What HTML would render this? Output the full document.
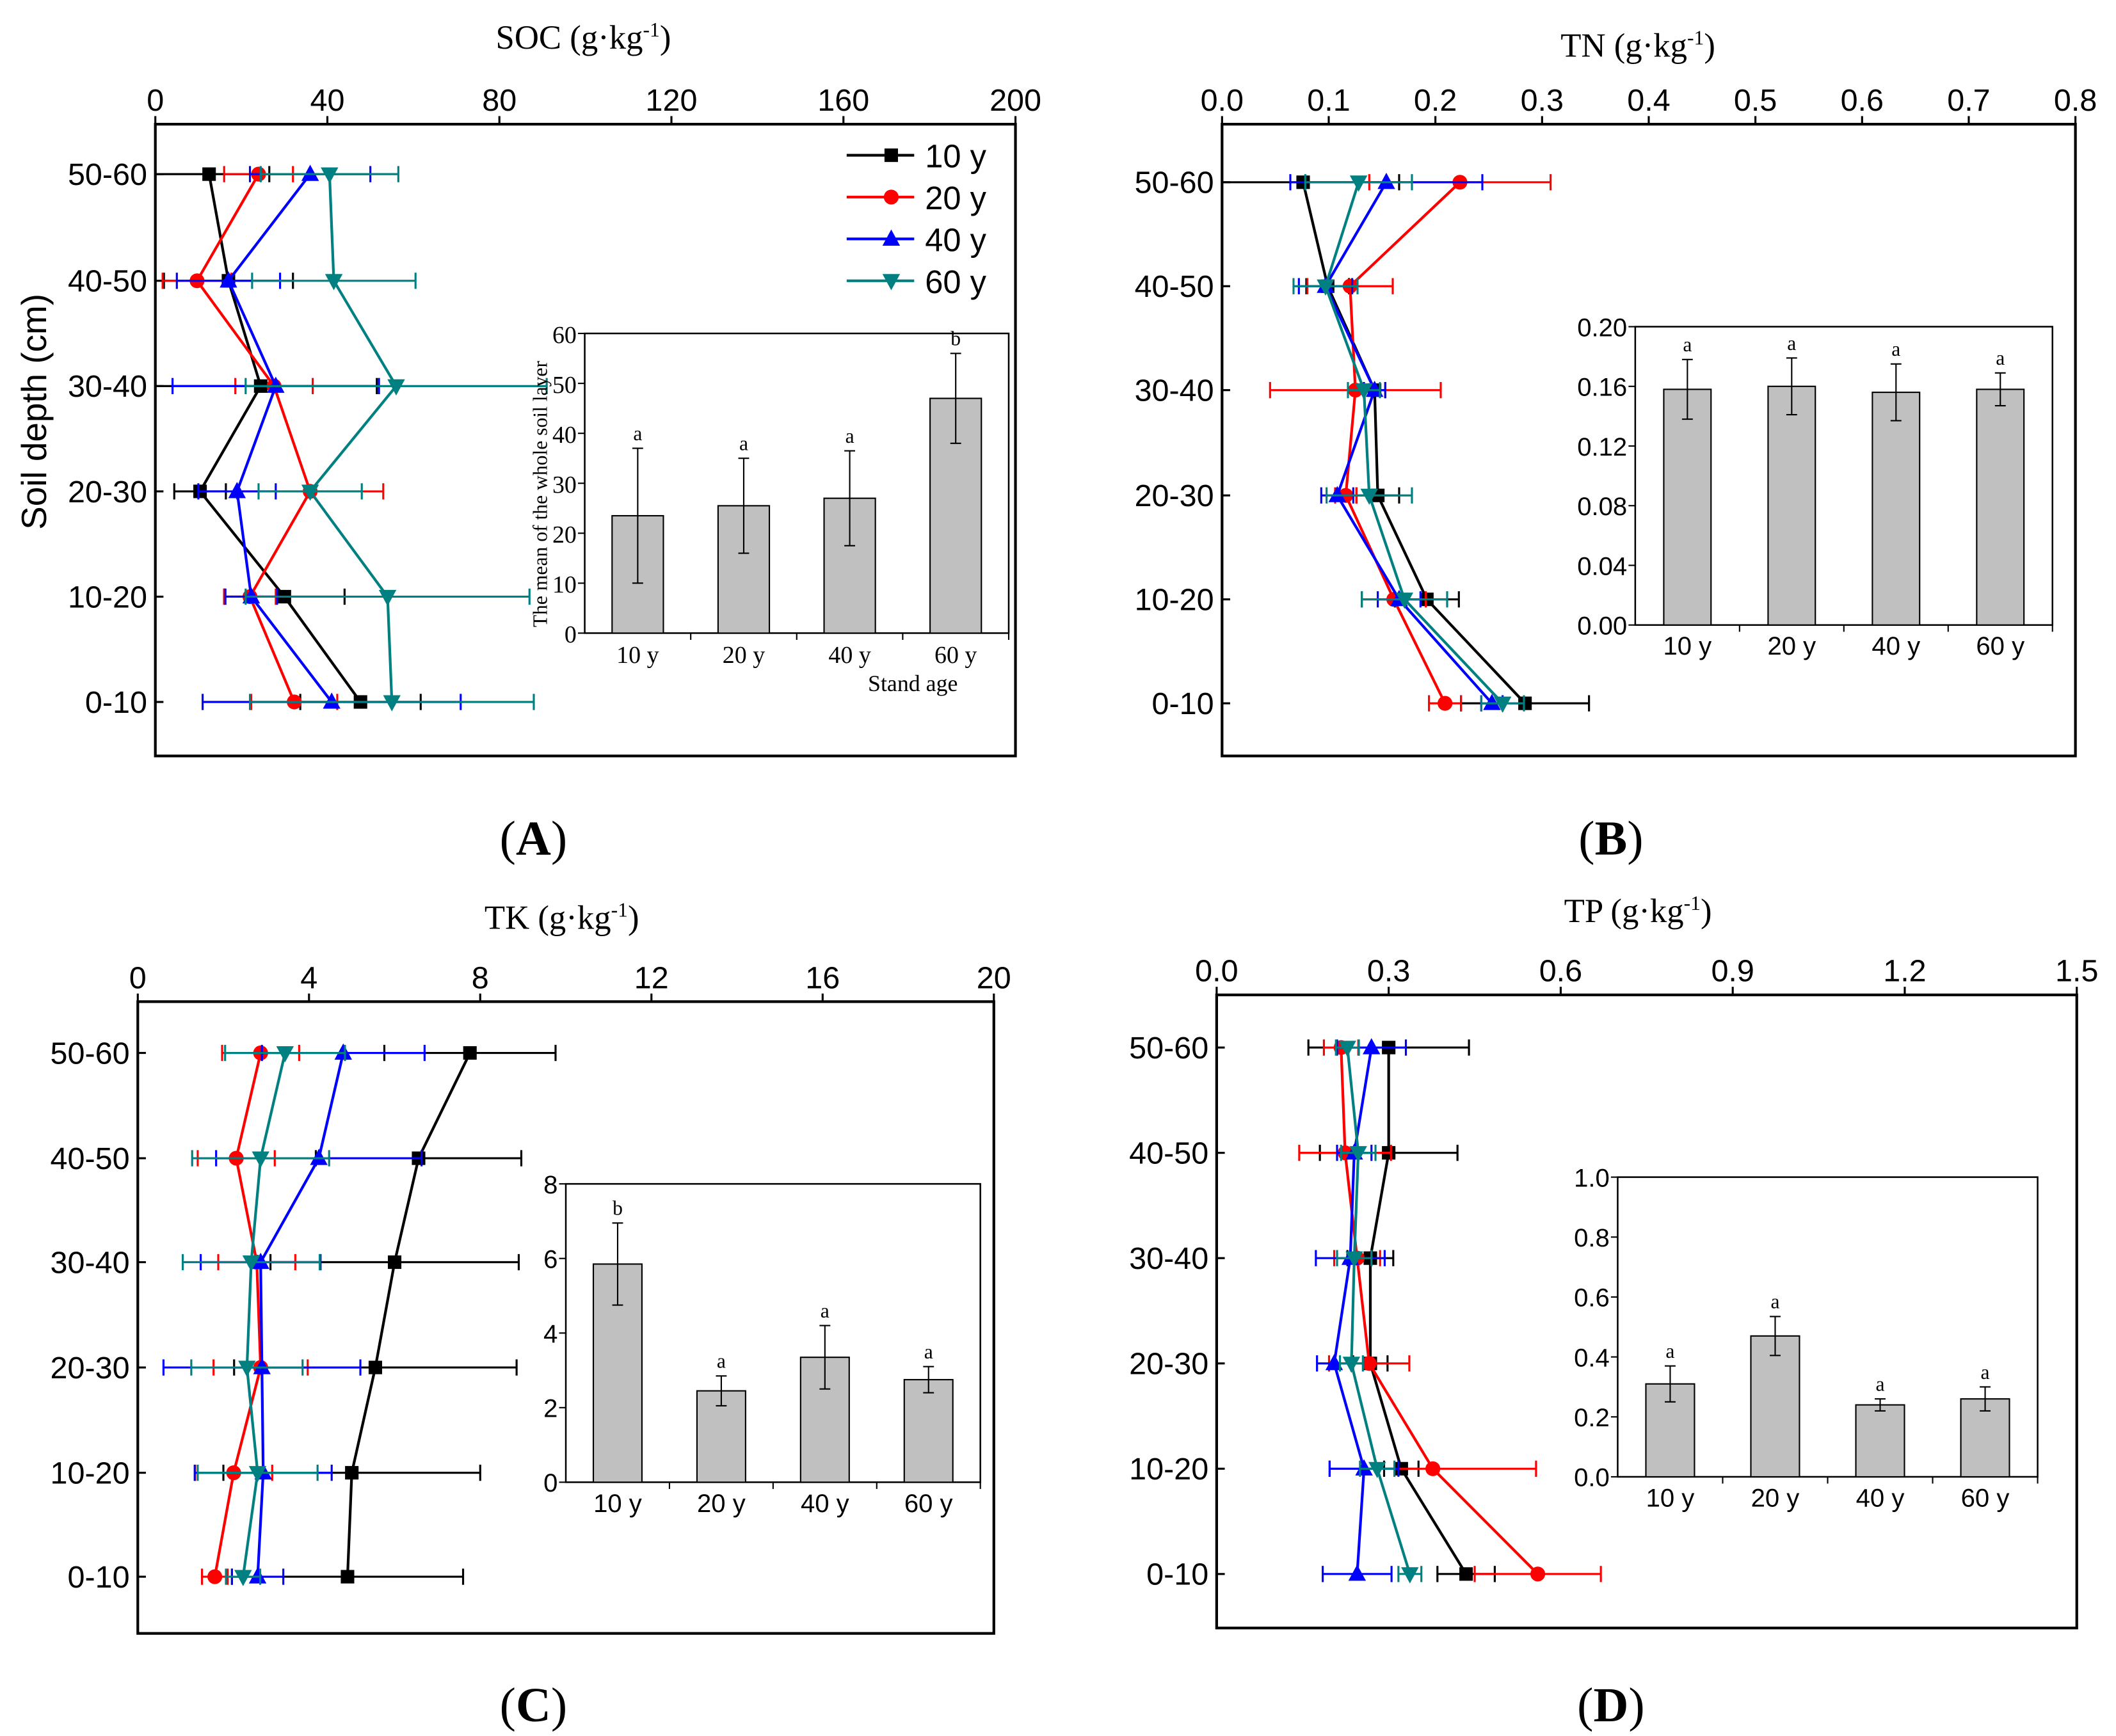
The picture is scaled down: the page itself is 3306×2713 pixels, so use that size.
<!DOCTYPE html>
<html><head><meta charset="utf-8"><style>
html,body{margin:0;padding:0;background:#fff}
svg{display:block}
text{font-family:"Liberation Sans",sans-serif}
.serif{font-family:"Liberation Serif",serif}
</style></head><body>
<svg id="fig" width="3306" height="2713" viewBox="0 0 1567 1286" xmlns="http://www.w3.org/2000/svg"></svg>
<script>
// ---- data ----
const depths = ["50-60","40-50","30-40","20-30","10-20","0-10"];
const seriesNames = ["10 y","20 y","40 y","60 y"];
const ages = ["10 y","20 y","40 y","60 y"];
// Panel A: SOC
const socMeans = [[12.5,17,24.5,10.4,30,47.7],[24,9.7,27.6,36,22,32.3],[36,17,28,19,22.3,41],[40.5,41.5,56,36,54,55]];
const socErr = [[14,15,27,6,14,14],[8,8,9,17,6,10],[14,12,24,9,6,30],[16,19,35,12,33,33]];
const socBar = [23.5,25.5,27,47];
const socBarErr = [13.5,9.5,9.5,9];
const socLetters = ["a","a","a","b"];
// Panel B: TN
const tnMeans = [[0.076,0.099,0.143,0.146,0.192,0.284],[0.223,0.12,0.125,0.116,0.161,0.209],[0.154,0.097,0.143,0.108,0.166,0.253],[0.128,0.097,0.133,0.138,0.171,0.263]];
const tnErr = [[0.09,0.02,0.01,0.02,0.03,0.06],[0.085,0.04,0.08,0.01,0.03,0.015],[0.09,0.025,0.01,0.015,0.02,0.01],[0.05,0.03,0.015,0.04,0.04,0.02]];
const tnBar = [0.158,0.16,0.156,0.158];
const tnBarErr = [0.02,0.019,0.019,0.011];
const tnLetters = ["a","a","a","a"];
// Panel C: TK
const tkMeans = [[7.76,6.56,6.0,5.55,5.0,4.9],[2.87,2.3,2.78,2.87,2.24,1.8],[4.8,4.23,2.87,2.9,2.93,2.8],[3.44,2.87,2.65,2.55,2.8,2.46]];
const tkErr = [[2,2.4,2.9,3.3,3,2.7],[0.9,0.9,0.9,1.1,0.9,0.3],[1.9,2.4,1.4,2.3,1.6,0.6],[1.4,1.6,1.6,1.3,1.4,0.4]];
const tkBar = [5.85,2.45,3.35,2.75];
const tkBarErr = [1.1,0.4,0.85,0.35];
const tkLetters = ["b","a","a","a"];
// Panel D: TP
const tpMeans = [[0.30,0.30,0.268,0.268,0.322,0.435],[0.217,0.224,0.245,0.266,0.377,0.56],[0.27,0.24,0.233,0.205,0.257,0.245],[0.228,0.247,0.24,0.235,0.28,0.337]];
const tpErr = [[0.14,0.12,0.04,0.03,0.03,0.05],[0.03,0.08,0.04,0.07,0.18,0.11],[0.06,0.03,0.06,0.03,0.06,0.06],[0.02,0.03,0.03,0.02,0.03,0.02]];
const tpBar = [0.31,0.47,0.24,0.26];
const tpBarErr = [0.06,0.065,0.02,0.04];
const tpLetters = ["a","a","a","a"];
const colors = ["#000000","#ff0000","#0000ff","#008080"];

const svg = document.getElementById('fig');
const NS = "http://www.w3.org/2000/svg";
function mk(tag, attrs, parent, text){
  const e = document.createElementNS(NS, tag);
  for (const k in attrs) e.setAttribute(k, attrs[k]);
  if (text !== undefined) e.textContent = text;
  (parent||svg).appendChild(e); return e;
}
function marker(g, k, x, y, c){
  let m;
  if (k===0) m = mk('rect',{x:x-5,y:y-5,width:10,height:10,fill:c},g);
  else if (k===1) m = mk('circle',{cx:x,cy:y,r:5.5,fill:c},g);
  else if (k===2) m = mk('polygon',{points:`${x},${y-7} ${x-6.5},${y+5} ${x+6.5},${y+5}`,fill:c},g);
  else m = mk('polygon',{points:`${x},${y+7} ${x-6.5},${y-5} ${x+6.5},${y-5}`,fill:c},g);
  
  
}

function panel(cfg){
  const g = mk('g',{});
  
  
  const {x0,x1,y0,y1,max,ticks,rows} = cfg;
  const xs = v => x0 + v/max*(x1-x0);
  const box = mk('rect',{x:x0,y:y0,width:x1-x0,height:y1-y0,fill:'none',stroke:'#000','stroke-width':2},g);
   
  ticks.forEach(t=>{
    const v = parseFloat(t);
    mk('line',{x1:xs(v),x2:xs(v),y1:y0,y2:y0-6,stroke:'#000','stroke-width':1.5},g);
    const tl = mk('text',{x:xs(v),y:y0-10,'font-size':23,'text-anchor':'middle'},g,t);
     
  });
  const tt = mk('text',{x:cfg.titleX,y:cfg.titleY,'font-size':25,'text-anchor':'middle',class:'serif'},g);
   
  tt.innerHTML = cfg.title + ' (g·kg<tspan dy="-9" font-size="15">-1</tspan><tspan dy="9">)</tspan>';
  depths.forEach((d,i)=>{
    mk('line',{x1:x0,x2:x0+6,y1:rows[i],y2:rows[i],stroke:'#000','stroke-width':1.5},g);
    const dl = mk('text',{x:x0-6,y:rows[i]+8,'font-size':23,'text-anchor':'end'},g,d);
     
  });
  cfg.means.forEach((ser,k)=>{
    const sg = mk('g',{},g);
    
    
    ser.forEach((v,i)=>{
      const e = cfg.err[k][i], y=rows[i];
      const lo = Math.max(0,v-e), hi = v+e;
      mk('line',{x1:xs(lo),x2:xs(hi),y1:y,y2:y,stroke:colors[k],'stroke-width':1.5},sg);
      mk('line',{x1:xs(lo),x2:xs(lo),y1:y-6,y2:y+6,stroke:colors[k],'stroke-width':1.5},sg);
      mk('line',{x1:xs(hi),x2:xs(hi),y1:y-6,y2:y+6,stroke:colors[k],'stroke-width':1.5},sg);
    });
    const pts = ser.map((v,i)=>xs(v)+','+rows[i]).join(' ');
    const pl = mk('polyline',{points:pts,fill:'none',stroke:colors[k],'stroke-width':2},sg);
     
    ser.forEach((v,i)=>marker(sg,k,xs(v),rows[i],colors[k]));
  });
  // inset
  const I = cfg.inset;
  const ig = mk('g',{},g);
   
  mk('rect',{x:I.x0,y:I.y0,width:I.x1-I.x0,height:I.y1-I.y0,fill:'#fff',stroke:'#000','stroke-width':1.2},ig);
  const ys = v => I.y1 - v/I.max*(I.y1-I.y0);
  I.ticks.forEach(t=>{
    const v=parseFloat(t);
    mk('line',{x1:I.x0,x2:I.x0-5,y1:ys(v),y2:ys(v),stroke:'#000','stroke-width':1},ig);
    const l = mk('text',{x:I.x0-6,y:ys(v)+7,'font-size':I.fs,'text-anchor':'end',class:I.serif?'serif':''},ig,t);
     
  });
  const step = (I.x1-I.x0)/4;
  ages.forEach((a,j)=>{
    const cx = I.x0 + step*(j+0.5), w = I.bw;
    const b = mk('rect',{x:cx-w/2,y:ys(I.vals[j]),width:w,height:I.y1-ys(I.vals[j]),fill:'#c0c0c0',stroke:'#000','stroke-width':1},ig);
    
    
    const top = I.vals[j]+I.errs[j], bot=I.vals[j]-I.errs[j];
    mk('line',{x1:cx,x2:cx,y1:ys(top),y2:ys(bot),stroke:'#000','stroke-width':1},ig);
    mk('line',{x1:cx-4,x2:cx+4,y1:ys(top),y2:ys(top),stroke:'#000','stroke-width':1},ig);
    mk('line',{x1:cx-4,x2:cx+4,y1:ys(bot),y2:ys(bot),stroke:'#000','stroke-width':1},ig);
    const lt = mk('text',{x:cx,y:ys(top)-6,'font-size':15,'text-anchor':'middle',class:'serif'},ig,I.letters[j]);
     
    mk('line',{x1:cx+step/2,x2:cx+step/2,y1:I.y1,y2:I.y1+5,stroke:'#000','stroke-width':1},ig);
    const al = mk('text',{x:cx,y:I.y1+22,'font-size':I.fs,'text-anchor':'middle',class:I.serif?'serif':''},ig,a);
     
  });
  const pl = mk('text',{x:cfg.labelX,y:cfg.labelY,'font-size':36,'text-anchor':'middle',class:'serif'},g);
   
  pl.innerHTML = '(<tspan font-weight="bold">'+cfg.letter+'</tspan>)';
  return g;
}

panel({name:'panel-a-soc',letter:'A',x0:115,x1:752,y0:92,y1:560,max:200,ticks:["0","40","80","120","160","200"],
  rows:[129,208,286,364,442,520],means:socMeans,err:socErr,title:'SOC',titleX:432,titleY:36,labelX:395,labelY:633,
  inset:{x0:433,x1:747,y0:247,y1:469,max:60,ticks:["0","10","20","30","40","50","60"],vals:socBar,errs:socBarErr,letters:socLetters,bw:38,fs:18,serif:true}});
panel({name:'panel-b-tn',letter:'B',x0:905,x1:1537,y0:92,y1:560,max:0.8,ticks:["0.0","0.1","0.2","0.3","0.4","0.5","0.6","0.7","0.8"],
  rows:[135,212,289,367,444,521],means:tnMeans,err:tnErr,title:'TN',titleX:1213,titleY:42,labelX:1193,labelY:633,
  inset:{x0:1211,x1:1520,y0:242,y1:463,max:0.2,ticks:["0.00","0.04","0.08","0.12","0.16","0.20"],vals:tnBar,errs:tnBarErr,letters:tnLetters,bw:35,fs:19}});
panel({name:'panel-c-tk',letter:'C',x0:102,x1:736,y0:742,y1:1210,max:20,ticks:["0","4","8","12","16","20"],
  rows:[780,858,935,1013,1091,1168],means:tkMeans,err:tkErr,title:'TK',titleX:416,titleY:688,labelX:395,labelY:1275,
  inset:{x0:419,x1:726,y0:877,y1:1098,max:8,ticks:["0","2","4","6","8"],vals:tkBar,errs:tkBarErr,letters:tkLetters,bw:36,fs:19}});
panel({name:'panel-d-tp',letter:'D',x0:901,x1:1538,y0:737,y1:1206,max:1.5,ticks:["0.0","0.3","0.6","0.9","1.2","1.5"],
  rows:[776,854,932,1010,1088,1166],means:tpMeans,err:tpErr,title:'TP',titleX:1213,titleY:683,labelX:1193,labelY:1275,
  inset:{x0:1198,x1:1509,y0:872,y1:1094,max:1.0,ticks:["0.0","0.2","0.4","0.6","0.8","1.0"],vals:tpBar,errs:tpBarErr,letters:tpLetters,bw:36,fs:19}});

// legend panel A
const lg = mk('g',{});
 
seriesNames.forEach((n,k)=>{
  const y = 115 + k*31;
  const e = mk('g',{},lg);
   
  mk('line',{x1:627,x2:677,y1:y,y2:y,stroke:colors[k],'stroke-width':2},e);
  marker(e,k,660,y,colors[k]);
  mk('text',{x:685,y:y+9,'font-size':24},e,n);
});
// y-axis title panel A
const yt = mk('text',{x:34,y:305,'font-size':26,'text-anchor':'middle',transform:'rotate(-90 34 305)'},svg,'Soil depth (cm)');
 
const it = mk('text',{x:405,y:366,'font-size':15,'text-anchor':'middle',class:'serif',transform:'rotate(-90 405 366)'},svg,'The mean of the whole soil layer');
 
const sa = mk('text',{x:676,y:512,'font-size':17,'text-anchor':'middle',class:'serif'},svg,'Stand age');
 
</script>
</body></html>
